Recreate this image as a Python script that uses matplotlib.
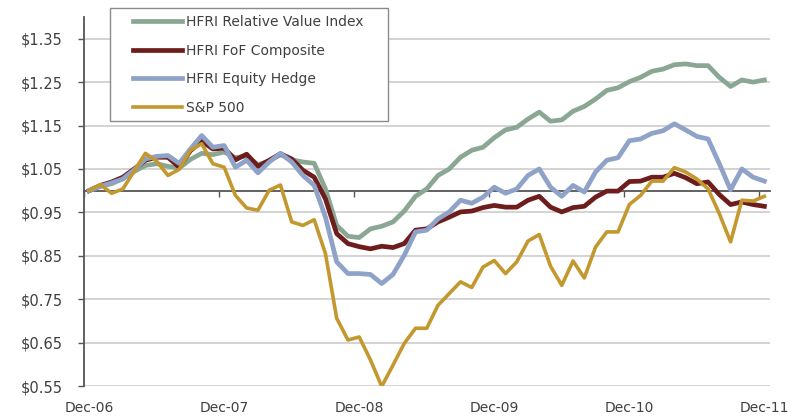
import matplotlib.pyplot as plt
from matplotlib.patches import Rectangle

# monthly index values, Dec-06 .. Dec-11 (61 points)
rel_value = [1.000, 1.010, 1.016, 1.028, 1.044, 1.058, 1.062, 1.056, 1.052, 1.072,
             1.086, 1.083, 1.089, 1.076, 1.080, 1.060, 1.068, 1.083, 1.071, 1.066,
             1.063, 1.004, 0.920, 0.895, 0.892, 0.912, 0.918, 0.928, 0.953, 0.987,
             1.004, 1.035, 1.050, 1.077, 1.093, 1.100, 1.122, 1.140, 1.146, 1.165,
             1.181, 1.160, 1.163, 1.183, 1.194, 1.211, 1.231, 1.237, 1.251, 1.261,
             1.275, 1.280, 1.290, 1.292, 1.288, 1.288, 1.261, 1.240, 1.255, 1.250,
             1.255]
fof = [1.000, 1.012, 1.020, 1.031, 1.050, 1.070, 1.077, 1.077, 1.054, 1.092,
       1.114, 1.096, 1.098, 1.071, 1.084, 1.056, 1.070, 1.085, 1.073, 1.047,
       1.031, 0.981, 0.901, 0.878, 0.871, 0.866, 0.872, 0.869, 0.878, 0.909,
       0.912, 0.928, 0.939, 0.951, 0.953, 0.961, 0.966, 0.962, 0.962, 0.978,
       0.987, 0.962, 0.951, 0.961, 0.964, 0.985, 0.999, 0.999, 1.021, 1.022,
       1.031, 1.031, 1.040, 1.030, 1.016, 1.020, 0.991, 0.968, 0.974, 0.968,
       0.964]
equity_hedge = [1.000, 1.010, 1.018, 1.027, 1.048, 1.073, 1.079, 1.081, 1.063, 1.096,
                1.127, 1.100, 1.104, 1.054, 1.070, 1.041, 1.066, 1.086, 1.066, 1.035,
                1.012, 0.939, 0.836, 0.809, 0.809, 0.807, 0.786, 0.807, 0.851, 0.905,
                0.909, 0.935, 0.951, 0.978, 0.971, 0.985, 1.008, 0.994, 1.004, 1.035,
                1.050, 1.008, 0.987, 1.012, 0.997, 1.043, 1.070, 1.076, 1.115, 1.119,
                1.132, 1.138, 1.154, 1.140, 1.125, 1.119, 1.062, 1.002, 1.050, 1.031,
                1.022]
sp500 = [1.000, 1.014, 0.994, 1.004, 1.045, 1.086, 1.068, 1.035, 1.049, 1.093,
         1.108, 1.062, 1.054, 0.989, 0.960, 0.955, 1.001, 1.013, 0.928, 0.920,
         0.933, 0.855, 0.706, 0.656, 0.663, 0.610, 0.549, 0.598, 0.648, 0.683,
         0.683, 0.736, 0.763, 0.790, 0.777, 0.824, 0.839, 0.809, 0.836, 0.884,
         0.899, 0.826, 0.782, 0.838, 0.799, 0.870, 0.905, 0.905, 0.968, 0.989,
         1.022, 1.022, 1.053, 1.043, 1.027, 1.004, 0.947, 0.882, 0.978, 0.976,
         0.987]

x_labels = ['Dec-06', 'Dec-07', 'Dec-08', 'Dec-09', 'Dec-10', 'Dec-11']
y_ticks = [0.55, 0.65, 0.75, 0.85, 0.95, 1.05, 1.15, 1.25, 1.35]

series = [
    (rel_value, 'HFRI Relative Value Index', '#8aa793', 3.4),
    (fof, 'HFRI FoF Composite', '#6e1d1d', 3.4),
    (equity_hedge, 'HFRI Equity Hedge', '#8fa2c7', 3.4),
    (sp500, 'S&P 500', '#c3982e', 2.6),
]

text_color = '#404040'
axis_color = '#555555'

fig = plt.figure(figsize=(8.06, 4.17), dpi=100)
ax = fig.add_axes([0.1036, 0.0743, 0.8517, 0.8849])

x = list(range(len(sp500)))
for vals, name, color, lw in series:
    ax.plot(x, vals, color=color, lw=lw, label=name, zorder=3)

ax.set_xlim(-0.5, len(x) - 0.5)
ax.set_ylim(0.55, 1.40)

# y axis
ax.set_yticks(y_ticks)
ax.set_yticklabels(['$%.2f' % v for v in y_ticks])
ax.yaxis.grid(True, color='#d0d0d0', lw=1.3, zorder=0)
ax.set_axisbelow(True)
ax.tick_params(axis='y', direction='out', length=4, width=1, color=axis_color,
               labelsize=10.5, labelcolor=text_color, pad=11)

# bottom spine sits on the 1.00 line, ticks between years
ax.spines['bottom'].set_position(('data', 1.0))
ax.spines['bottom'].set_color(axis_color)
ax.spines['bottom'].set_linewidth(1.3)
ax.spines['bottom'].set_zorder(2)
ax.set_xticks([-0.5 + 12 * k for k in range(6)])
ax.set_xticklabels([])
ax.tick_params(axis='x', direction='out', length=4, width=1, color=axis_color)

ax.spines['left'].set_color(axis_color)
ax.spines['left'].set_linewidth(1.3)
ax.spines['top'].set_visible(False)
ax.spines['right'].set_visible(False)

# year labels along the bottom
sec = ax.secondary_xaxis(location=0)
sec.set_xticks([12 * k for k in range(6)])
sec.set_xticklabels(x_labels)
sec.tick_params(length=0, labelsize=10, labelcolor=text_color, pad=11)
sec.spines['bottom'].set_visible(False)

# legend box
box = Rectangle((110 / 806, 1 - 121 / 417), 278 / 806, 113 / 417,
                transform=fig.transFigure, facecolor='white', edgecolor='#8c8c8c',
                lw=1, zorder=4, clip_on=False)
ax.add_patch(box)
leg = ax.legend(loc='upper left', bbox_to_anchor=(133 / 806, 1 - 15 / 417),
                bbox_transform=fig.transFigure, frameon=False, fontsize=10,
                handlelength=3.5, handletextpad=0.35, labelspacing=1.05,
                borderpad=0, borderaxespad=0)
leg.set_zorder(5)
for t in leg.get_texts():
    t.set_color(text_color)

fig.savefig('out.png', dpi=100)
